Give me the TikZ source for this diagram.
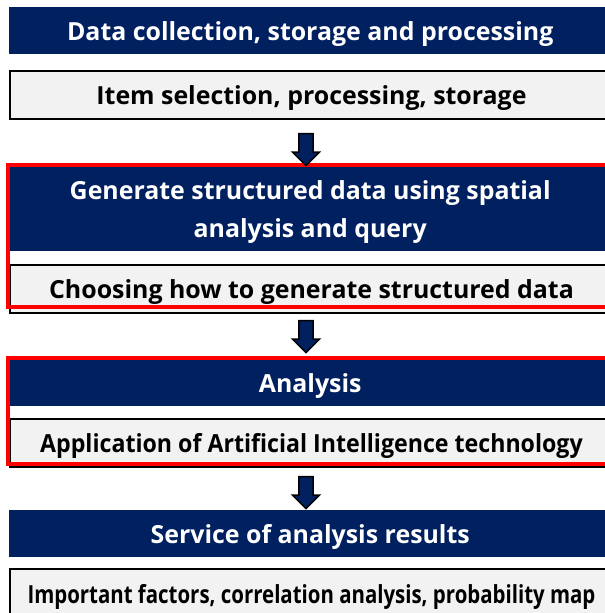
\documentclass[tikz,border=0pt]{standalone}
\usepackage{fontspec}
\setmainfont{Open Sans}
\usetikzlibrary{positioning,shapes.arrows,calc}
\definecolor{headfill}{HTML}{002060}
\definecolor{subfill}{HTML}{F2F2F2}
\definecolor{frameclr}{HTML}{FF0000}
\tikzset{
  head/.style    = {fill=headfill, text=white, anchor=north west, inner sep=0pt,
                    minimum width=602bp, align=center, text depth=0pt,
                    font=\fontsize{25}{38}\selectfont\bfseries},
  sub/.style     = {fill=subfill, draw=black, line width=2bp, anchor=north west,
                    inner sep=0pt, minimum width=603bp, align=center, text depth=0pt,
                    font=\fontsize{25}{28}\selectfont\bfseries},
  frame/.style   = {draw=frameclr, line width=4bp},
  downflow/.style= {single arrow, shape border rotate=270, fill=headfill,
                    draw=black, line width=1.5bp, inner sep=6bp,
                    minimum height=32bp, minimum width=27bp,
                    single arrow head extend=6bp},
}

\begin{document}
\begin{tikzpicture}[x=1bp,y=-1bp]
\clip (0,0) rectangle (605,613);
\fill[white] (0,0) rectangle (605,613);

%% stage 1
\node[head, minimum height=47bp] (collect) at (9,7) {Data collection, storage and processing};
\node[sub, minimum height=48bp]  (select)  at (9,70) {Item selection, processing, storage};

%% stage 2
\node[head, minimum height=84bp] (generate) at (9,167)
  {Generate structured data using spatial\\analysis and query};
\node[sub, minimum height=48bp]  (choose)   at (9,264) {Choosing how to generate structured data};
\draw[frame] (8,165) rectangle (612,307);

%% stage 3
\node[head, minimum height=46bp] (analysis) at (9,360) {Analysis};
\node[sub, minimum height=48bp, font=\fontsize{25}{28}\selectfont\bfseries\addfontfeatures{FakeStretch=0.93}]
  (apply) at (9,418) {Application of Artificial Intelligence technology};
\draw[frame] (8,358) rectangle (612,464);

%% stage 4
\node[head, minimum height=47bp] (service) at (9,510) {Service of analysis results};
\node[sub, minimum height=50bp, font=\fontsize{25}{28}\selectfont\bfseries\addfontfeatures{FakeStretch=0.82}]
  (result) at (9,568) {Important factors, correlation analysis, probability map};

%% arrows between stages
\node[downflow] (a1) at (306,146) {};
\node[downflow] (a2) at (306,333) {};
\node[downflow] (a3) at (306,489) {};

\end{tikzpicture}
\end{document}
